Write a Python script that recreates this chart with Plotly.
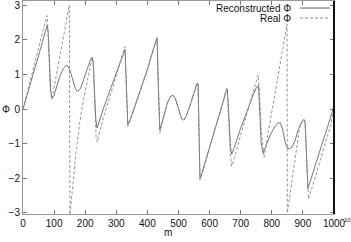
import plotly.graph_objects as go

# reconstructed phase (solid)
m_rec = [0, 20, 40, 60, 72, 78, 81, 85, 89, 93, 100, 110, 120, 130, 141, 150, 160, 168, 175, 185,
         195, 205, 215, 222, 226, 230, 234, 238, 245, 260, 280, 300, 315, 325, 328, 331, 334, 337, 345, 360,
         380, 400, 420, 428, 431, 434, 437, 440, 445, 455, 465, 475, 482, 490, 500, 510, 517, 525, 535, 545,
         555, 560, 563, 566, 569, 575, 590, 610, 630, 645, 653, 657, 662, 667, 671, 680, 700, 720, 740, 752,
         757, 761, 766, 772, 780, 795, 810, 820, 828, 835, 843, 849, 857, 865, 875, 885, 895, 903, 907, 911,
         916, 925, 940, 960, 980, 1000]
phi_rec = [0.0, 0.6, 1.25, 1.85, 2.25, 2.42, 2.2, 1.3, 0.55, 0.3, 0.4, 0.7, 0.98, 1.18, 1.27, 1.15, 0.85, 0.6, 0.5, 0.6,
           0.85, 1.12, 1.38, 1.5, 1.35, 0.5, -0.3, -0.55, -0.35, 0.05, 0.55, 1.05, 1.45, 1.68, 1.72, 1.0, -0.2, -0.45, -0.3, 0.1,
           0.6, 1.15, 1.75, 2.0, 2.05, 1.0, -0.3, -0.6, -0.45, -0.1, 0.2, 0.37, 0.4, 0.3, 0.0, -0.28, -0.32, -0.2, 0.05, 0.35,
           0.62, 0.75, 0.7, -0.8, -2.0, -1.85, -1.4, -0.85, -0.25, 0.25, 0.52, 0.56, -0.2, -1.1, -1.3, -1.1, -0.55, -0.05, 0.4, 0.65,
           0.68, 0.0, -1.0, -1.27, -1.1, -0.75, -0.5, -0.4, -0.4, -0.6, -0.95, -1.12, -1.15, -1.1, -0.9, -0.6, -0.4, -0.3, -0.35, -1.2,
           -2.3, -2.05, -1.6, -1.05, -0.5, 0.1]

# real phase (dashed)
m_real = [0, 20, 40, 60, 77, 79, 83, 88, 93, 100, 110, 120, 130, 140, 147, 149, 151, 160, 170, 183,
          195, 210, 222, 226, 230, 235, 239, 245, 260, 280, 300, 315, 325, 328, 331, 334, 337, 345, 360, 380,
          400, 420, 428, 431, 434, 437, 440, 445, 455, 465, 475, 482, 490, 500, 510, 517, 525, 535, 545, 555,
          560, 563, 566, 569, 575, 590, 610, 630, 645, 653, 656, 661, 666, 671, 680, 700, 720, 740, 750, 756,
          760, 766, 775, 790, 810, 830, 845, 849, 850, 860, 870, 880, 890, 898, 903, 907, 912, 918, 930, 950,
          970, 990, 1000]
phi_real = [0.0, 0.7, 1.4, 2.1, 2.7, 2.55, 1.4, 0.55, 0.3, 0.6, 1.1, 1.6, 2.1, 2.6, 2.95, 3.0, -3.05, -2.2, -1.3, -0.35,
            0.3, 0.95, 1.48, 1.3, 0.2, -0.8, -0.95, -0.7, -0.2, 0.35, 0.95, 1.45, 1.76, 1.8, 1.0, -0.2, -0.5, -0.32, 0.08, 0.58,
            1.12, 1.75, 2.02, 2.07, 1.0, -0.35, -0.68, -0.5, -0.12, 0.2, 0.37, 0.4, 0.3, 0.0, -0.28, -0.33, -0.2, 0.05, 0.35, 0.62,
            0.76, 0.72, -0.8, -2.05, -1.9, -1.4, -0.8, -0.2, 0.3, 0.58, 0.63, -0.2, -1.2, -1.65, -1.4, -0.75, -0.1, 0.5, 0.8, 0.98,
            0.6, -0.6, -1.4, -0.6, 0.45, 1.5, 2.25, 2.45, -3.0, -2.4, -1.75, -1.1, -0.5, -0.35, -0.3, -0.4, -1.3, -2.6, -2.25, -1.65,
            -1.05, -0.45, 0.1]

x_ticks = [0, 100, 200, 300, 400, 500, 600, 700, 800, 900, 1000]
y_ticks = [-3, -2, -1, 0, 1, 2, 3]

fig = go.Figure()
fig.add_trace(go.Scatter(x=m_rec, y=phi_rec, mode='lines', name='Reconstructed Φ',
                         line=dict(color='#666666', width=0.9)))
fig.add_trace(go.Scatter(x=m_real, y=phi_real, mode='lines', name='Real Φ',
                         line=dict(color='#888888', width=0.9, dash='3px,2px')))

font = dict(family='Liberation Sans', size=10, color='#111111')
fig.update_layout(
    width=351, height=242, margin=dict(l=23, r=17, t=1, b=28),
    paper_bgcolor='white', plot_bgcolor='white', showlegend=False, font=font,
)
fig.update_xaxes(range=[0, 1000], tickvals=x_ticks, ticks='inside', ticklen=4, tickcolor='#777',
                 showline=True, linecolor='#999', mirror='ticks', showgrid=False, zeroline=False,
                 ticklabeloverflow='allow')
fig.update_yaxes(range=[-3.03, 3.12], tickvals=y_ticks, ticks='inside', ticklen=4, tickcolor='#777',
                 showline=True, linecolor='#999', mirror='ticks', showgrid=False, zeroline=False,
                 ticklabeloverflow='allow')

# right frame edge is drawn dark
fig.add_shape(type='line', xref='paper', yref='paper', x0=1, x1=1, y0=0, y1=1,
              line=dict(color='#111', width=2))

# legend, gnuplot style: text right-aligned, sample on the right
for yy, label, dash, col in [(0.967, 'Reconstructed Φ', 'solid', '#666666'), (0.920, 'Real Φ', '3px,2px', '#888888')]:
    fig.add_annotation(x=0.868, y=yy, xref='paper', yref='paper', text=label, showarrow=False,
                       xanchor='right', yanchor='middle', font=font)
    fig.add_shape(type='line', xref='paper', yref='paper', x0=0.891, x1=0.987, y0=yy, y1=yy,
                  line=dict(color=col, width=1, dash=dash))

fig.add_annotation(x=0.466, y=-0.085, xref='paper', yref='paper', text='m', showarrow=False,
                   xanchor='center', yanchor='middle', font=font)
fig.add_annotation(x=-0.055, y=0.49, xref='paper', yref='paper', text='Φ', showarrow=False,
                   xanchor='center', yanchor='middle', font=font)
fig.add_annotation(x=1.027, y=-0.03, xref='paper', yref='paper', text='10', showarrow=False,
                   xanchor='left', yanchor='middle', font=dict(family='Liberation Sans', size=6, color='#111'))

fig.write_html("out.html", config={'displayModeBar': False},
               post_script="document.body.style.margin='0';")
